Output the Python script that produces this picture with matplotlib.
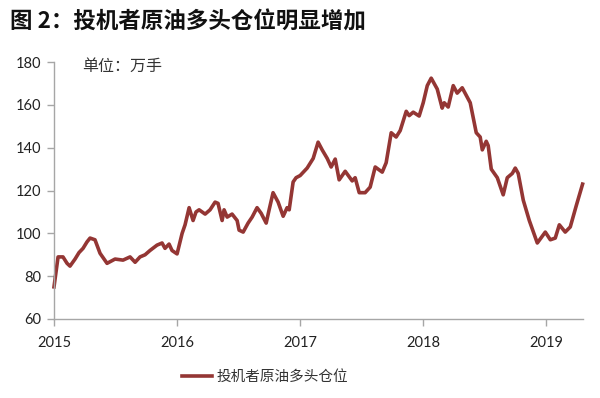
import matplotlib.pyplot as plt

plt.rcParams['font.family'] = ['Noto Sans CJK SC', 'DejaVu Sans']

# 投机者原油多头仓位（万手），横轴为年份小数
years = [2015.000, 2015.033, 2015.073, 2015.106, 2015.130, 2015.171, 2015.203, 2015.236,
         2015.268, 2015.293, 2015.333, 2015.374, 2015.431, 2015.496, 2015.561, 2015.618,
         2015.659, 2015.699, 2015.740, 2015.780, 2015.837, 2015.878, 2015.902, 2015.935,
         2015.959, 2016.000, 2016.041, 2016.065, 2016.098, 2016.130, 2016.154, 2016.179,
         2016.228, 2016.268, 2016.309, 2016.333, 2016.366, 2016.382, 2016.407, 2016.447,
         2016.488, 2016.504, 2016.537, 2016.577, 2016.610, 2016.650, 2016.683, 2016.724,
         2016.748, 2016.780, 2016.821, 2016.862, 2016.894, 2016.911, 2016.943, 2016.967,
         2017.000, 2017.057, 2017.106, 2017.146, 2017.179, 2017.220, 2017.252, 2017.285,
         2017.317, 2017.366, 2017.423, 2017.447, 2017.480, 2017.528, 2017.569, 2017.610,
         2017.667, 2017.699, 2017.740, 2017.780, 2017.813, 2017.862, 2017.886, 2017.919,
         2017.967, 2018.000, 2018.033, 2018.065, 2018.114, 2018.154, 2018.171, 2018.203,
         2018.244, 2018.276, 2018.317, 2018.382, 2018.431, 2018.463, 2018.480, 2018.512,
         2018.528, 2018.553, 2018.602, 2018.650, 2018.683, 2018.724, 2018.748, 2018.772,
         2018.813, 2018.862, 2018.927, 2018.992, 2019.033, 2019.073, 2019.106, 2019.154,
         2019.195, 2019.244, 2019.295]
position = [75, 89, 89, 86, 84.7, 88, 91, 93,
            96, 97.8, 97, 90.7, 86, 88, 87.5, 89,
            86.5, 89, 90, 92, 94.5, 95.5, 93, 95,
            92, 90.4, 100, 104, 112, 106, 110, 111,
            109, 111, 114.6, 114, 106, 111, 107.6, 109,
            106, 101.5, 100.6, 104.8, 107.6, 112, 109.4, 104.8,
            111, 119, 114.6, 108, 112, 111, 124, 126,
            127, 130.5, 135, 142.6, 139, 135, 131, 134.7,
            125, 129, 124.5, 126, 119, 119, 121.6, 131,
            128.6, 133, 147, 145, 148, 157, 155, 156.6,
            154.8, 161, 169, 172.5, 167.4, 158.5, 161, 159,
            169, 165.5, 168, 161, 147, 145, 139, 143,
            141, 130, 126, 118, 126, 128, 130.5, 128,
            115.5, 106, 95.5, 100.6, 97, 97.8, 104, 100.6,
            103, 113, 123]
year_ticks = [2015, 2016, 2017, 2018, 2019]
y_ticks = [60, 80, 100, 120, 140, 160, 180]

fig = plt.figure(figsize=(6, 3.98), dpi=100)
ax = fig.add_axes([0.09, 0.1985, 0.882, 0.6455])

ax.plot(years, position, color='#943634', lw=2.6,
        label='投机者原油多头仓位', solid_joinstyle='round', clip_on=False)

ax.set_xlim(2015, 2019.30)
ax.set_ylim(60, 180)
ax.set_xticks(year_ticks)
ax.set_xticklabels([str(y) for y in year_ticks])
ax.set_yticks(y_ticks)

for s in ['top', 'right']:
    ax.spines[s].set_visible(False)
for s in ['left', 'bottom']:
    ax.spines[s].set_color('#a6a6a6')
    ax.spines[s].set_linewidth(1)
ax.tick_params(axis='both', colors='#a6a6a6', labelcolor='#222222', length=5,
               width=1, labelsize=10.5, pad=4)
ax.tick_params(axis='x', pad=7)
for lbl in ax.get_xticklabels() + ax.get_yticklabels():
    lbl.set_family(['Lato', 'DejaVu Sans'])

fig.text(82 / 600, 1 - 66 / 398, '单位：万手', fontsize=11.5, color='#333333',
         va='center', ha='left')

fig.text(10 / 600, 1 - 22 / 398, '图 2：投机者原油多头仓位明显增加', fontsize=16.2,
         fontweight='bold', color='#111111', va='center', ha='left')

fig.legend(loc='center', bbox_to_anchor=(265 / 600, 1 - 377 / 398), frameon=False,
           fontsize=10.5, handlelength=2.1, handletextpad=0.3, labelcolor='#333333')

fig.savefig('out.png', dpi=100)
